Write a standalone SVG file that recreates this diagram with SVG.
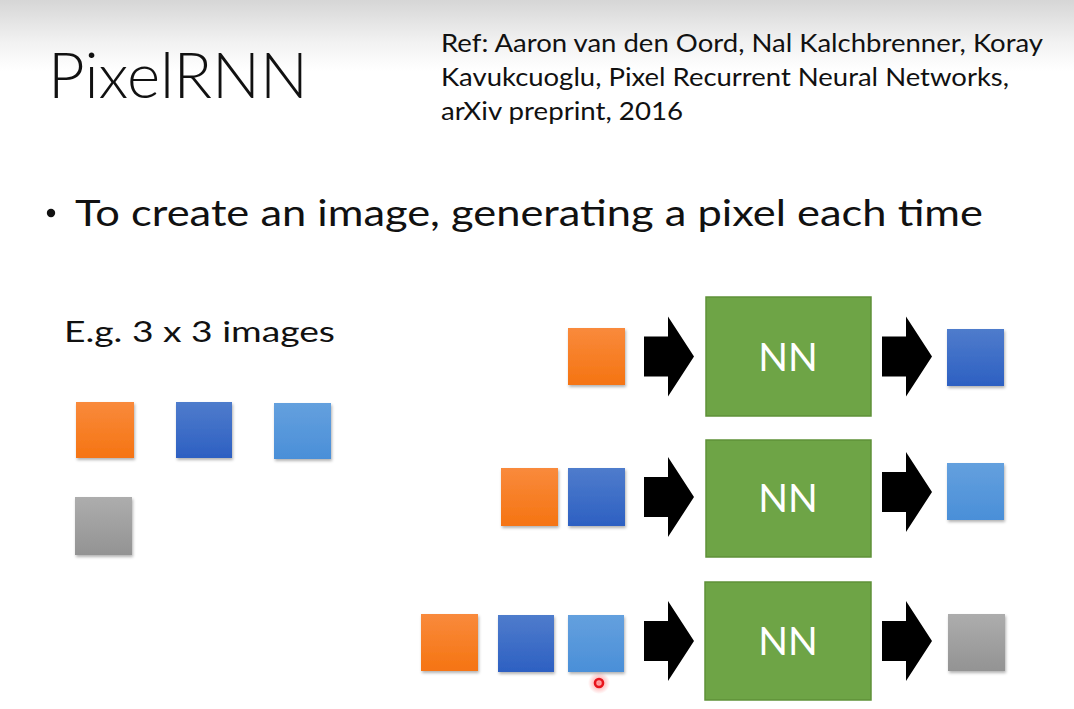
<svg xmlns="http://www.w3.org/2000/svg" xmlns:xlink="http://www.w3.org/1999/xlink" width="1074" height="709" viewBox="0 0 1074 709">
<defs>
<linearGradient id="bg" x1="0" y1="0" x2="0" y2="1">
<stop offset="0" stop-color="#d6d6d6"/>
<stop offset="0.06" stop-color="#f2f2f2"/>
<stop offset="0.1" stop-color="#ffffff"/>
<stop offset="1" stop-color="#ffffff"/>
</linearGradient>
<linearGradient id="gOrange" x1="0" y1="0" x2="0" y2="1">
<stop offset="0" stop-color="#f98a3c"/>
<stop offset="1" stop-color="#f57412"/>
</linearGradient>
<linearGradient id="gBlue" x1="0" y1="0" x2="0" y2="1">
<stop offset="0" stop-color="#4f7ccc"/>
<stop offset="1" stop-color="#2d60c2"/>
</linearGradient>
<linearGradient id="gLight" x1="0" y1="0" x2="0" y2="1">
<stop offset="0" stop-color="#64a0de"/>
<stop offset="1" stop-color="#4a8fd8"/>
</linearGradient>
<linearGradient id="gGray" x1="0" y1="0" x2="0" y2="1">
<stop offset="0" stop-color="#adadad"/>
<stop offset="1" stop-color="#939393"/>
</linearGradient>
<filter id="shadow" x="-20%" y="-20%" width="150%" height="150%">
<feDropShadow dx="1" dy="2" stdDeviation="1.6" flood-color="#000" flood-opacity="0.3"/>
</filter>
<radialGradient id="glow">
<stop offset="0" stop-color="#ff3030" stop-opacity="0.55"/>
<stop offset="1" stop-color="#ff3030" stop-opacity="0"/>
</radialGradient>
<path id="arrow" d="M0,-20 H24 V-40 L50,0 L24,40 V20 H0 Z"/>
</defs>
<style>
.t{font-family:Lato,"Open Sans","Liberation Sans",sans-serif;fill:#111}
.title{font-size:64px;font-weight:300}
.ref{font-size:25px}
.bul{font-size:36px}
.eg{font-size:29px}
.nn{font-family:Lato,"Open Sans","Liberation Sans",sans-serif;font-size:39px;fill:#fff;text-anchor:middle}
.sq{filter:url(#shadow)}
.o{fill:url(#gOrange)}
.b{fill:url(#gBlue)}
.l{fill:url(#gLight)}
.g{fill:url(#gGray)}
.box{fill:#6ea446;stroke:#5f9139;stroke-width:1.5}
.arr{fill:#000}
</style>
<rect width="1074" height="709" fill="url(#bg)"/>
<g id="title">
<text class="t title" x="48" y="98" textLength="260" lengthAdjust="spacingAndGlyphs">PixelRNN</text>
</g>
<g id="reference">
<text class="t ref" x="441" y="52" textLength="602" lengthAdjust="spacingAndGlyphs">Ref: Aaron van den Oord, Nal Kalchbrenner, Koray</text>
<text class="t ref" x="441" y="86" textLength="568" lengthAdjust="spacingAndGlyphs">Kavukcuoglu, Pixel Recurrent Neural Networks,</text>
<text class="t ref" x="441" y="120" textLength="242" lengthAdjust="spacingAndGlyphs">arXiv preprint, 2016</text>
</g>
<g id="bullet">
<circle cx="51" cy="213" r="4.2" fill="#111"/>
<text class="t bul" x="75" y="226" textLength="908" lengthAdjust="spacingAndGlyphs">To create an image, generating a pixel each time</text>
</g>
<g id="example">
<text class="t eg" x="64" y="342" textLength="271" lengthAdjust="spacingAndGlyphs">E.g. 3 x 3 images</text>
<rect class="sq o" x="76" y="402" width="58" height="56"/>
<rect class="sq b" x="176" y="402" width="56" height="56"/>
<rect class="sq l" x="274" y="403" width="57" height="56"/>
<rect class="sq g" x="75" y="497" width="57" height="58"/>
</g>
<g id="row1">
<rect class="sq o" x="568" y="328" width="57" height="57"/>
<rect class="box" x="706" y="297" width="165" height="119"/>
<text class="nn" x="788" y="371">NN</text>
<rect class="sq b" x="947" y="329" width="57" height="57"/>
</g>
<g id="row2">
<rect class="sq o" x="501" y="468" width="57" height="58"/>
<rect class="sq b" x="568" y="468" width="57" height="58"/>
<rect class="box" x="706" y="440" width="165" height="117"/>
<text class="nn" x="788" y="512">NN</text>
<rect class="sq l" x="947" y="463" width="57" height="57"/>
</g>
<g id="row3">
<rect class="sq o" x="421" y="614" width="57" height="57"/>
<rect class="sq b" x="498" y="615" width="56" height="57"/>
<rect class="sq l" x="568" y="615" width="56" height="57"/>
<rect class="box" x="705" y="582" width="166" height="118"/>
<text class="nn" x="788" y="655">NN</text>
<rect class="sq g" x="948" y="614" width="57" height="57"/>
</g>
<g id="connectors">
<use href="#arrow" class="arr" x="644" y="356.5"/>
<use href="#arrow" class="arr" x="882" y="356.5"/>
<use href="#arrow" class="arr" x="644" y="497"/>
<use href="#arrow" class="arr" x="882" y="492"/>
<use href="#arrow" class="arr" x="644" y="641"/>
<use href="#arrow" class="arr" x="882" y="641"/>
</g>
<g id="cursor">
<circle cx="599" cy="683" r="11" fill="url(#glow)"/>
<circle cx="599" cy="683" r="4" fill="none" stroke="#e8141c" stroke-width="2.6"/>
</g>
</svg>
